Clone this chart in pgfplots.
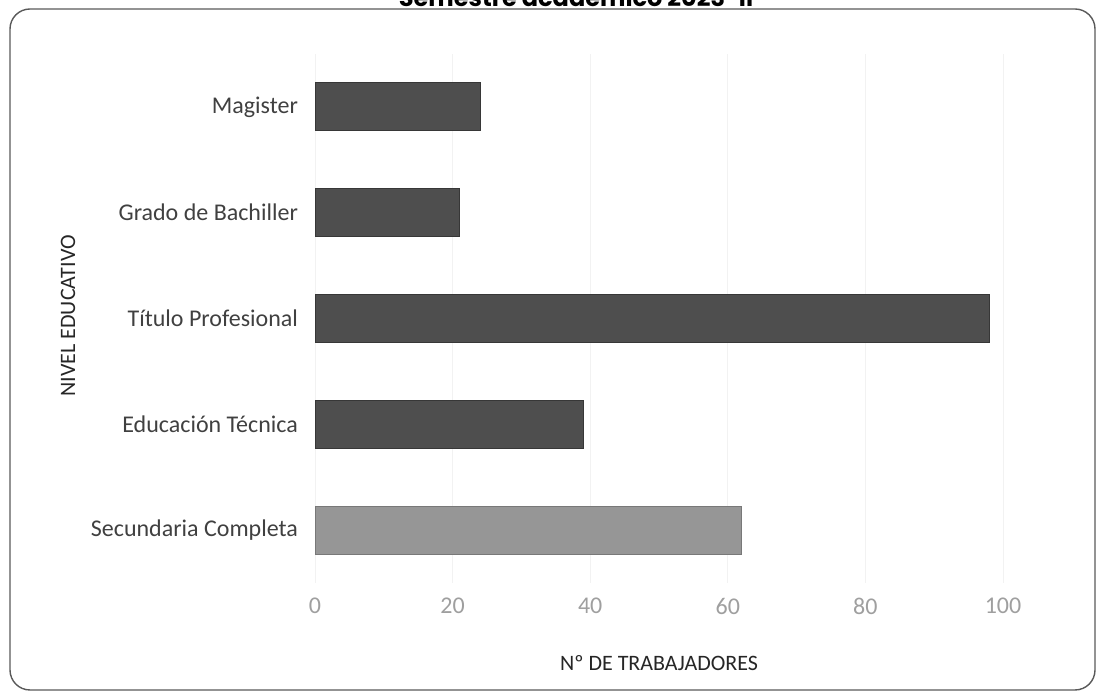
\documentclass[border=0pt]{standalone}
\usepackage{pgfplots}
\pgfplotsset{compat=1.18}
\usepackage{fontspec}
\setmainfont{Carlito}
\newfontfamily\titlefont{Poppins}
\definecolor{barDark}{RGB}{78,78,78}
\definecolor{barLight}{RGB}{150,150,150}
\definecolor{txt}{RGB}{64,64,64}
\begin{document}
\begin{tikzpicture}[x=1pt,y=1pt]
\useasboundingbox (0,0) rectangle (551,347);
\draw[rounded corners=10pt, line width=0.7pt, gray!70!black] (5,2) rectangle (547.5,342.5);
\node[anchor=base, font=\titlefont\bfseries\fontsize{12}{14}\selectfont] at (288,343.5) {Semestre académico 2023-II};
\begin{axis}[
  at={(157.5pt,55.5pt)}, anchor=south west,
  scale only axis,
  width=344pt, height=264.5pt,
  xbar, bar width=24pt,
  xmin=0, xmax=100,
  ymin=-0.5, ymax=4.5,
  ytick={0,1,2,3,4},
  yticklabels={Secundaria Completa, Educación Técnica, Título Profesional, Grado de Bachiller, Magister},
  xtick={0,20,40,60,80,100},
  axis line style={draw=none},
  major tick length=0pt,
  xmajorgrids, grid style={gray!10},
  ymajorgrids=false,
  /pgf/number format/assume math mode=true,
  tick label style={font=\fontsize{12}{14}\selectfont},
  xticklabel style={text=gray!75, yshift=-4pt},
  yticklabel style={text=txt, xshift=-5pt},
  xlabel={Nº DE TRABAJADORES},
  ylabel={NIVEL EDUCATIVO},
  xlabel style={font=\fontsize{11}{13}\selectfont, text=black!85, at={(axis description cs:0.5,0)}, anchor=center, yshift=-40pt},
  every axis y label/.style={at={(axis description cs:-0.359,0.505)}, anchor=center, rotate=90, font=\fontsize{11}{13}\selectfont, text=black!85},
]
\addplot[fill=barDark, draw=barDark!70!black, bar shift=0pt] coordinates {(39,1) (98,2) (21,3) (24,4)};
\addplot[fill=barLight, draw=barLight!80!black, bar shift=0pt] coordinates {(62,0)};
\end{axis}
\end{tikzpicture}
\end{document}
